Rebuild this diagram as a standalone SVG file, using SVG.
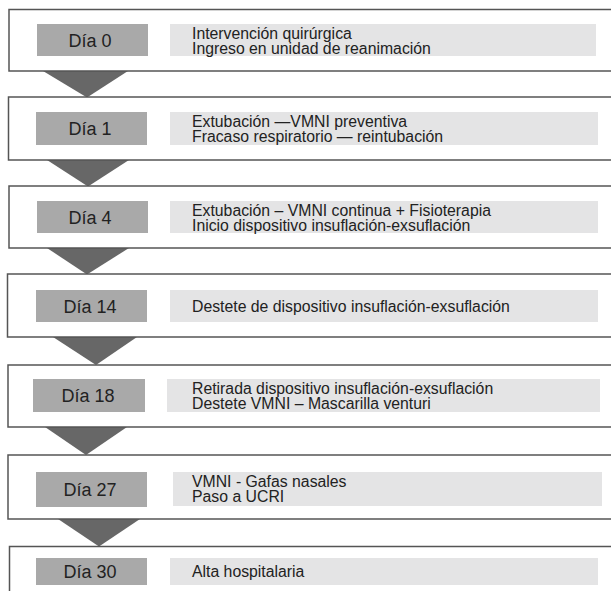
<svg xmlns="http://www.w3.org/2000/svg" width="611" height="591" viewBox="0 0 611 591">
<style>
.frame{fill:#ffffff;stroke:#555555;stroke-width:1.5}
.lab{fill:#a9a9a9}
.txt{fill:#e4e4e5}
.arrow{fill:#676767}
.lt{font-family:"Liberation Sans",Arial,sans-serif;font-size:18px;fill:#222222;text-anchor:middle}
.bt{font-family:"Liberation Sans",Arial,sans-serif;font-size:15.8px;fill:#222222}
</style>
<rect width="611" height="591" fill="#ffffff"/>
<g id="connectors">
<polygon class="arrow" points="43,71 128,71 87,97.5"/>
<polygon class="arrow" points="47,160 129,160 88,186.5"/>
<polygon class="arrow" points="47,248 129,248 87,274.5"/>
<polygon class="arrow" points="53,337 137,337 96,365"/>
<polygon class="arrow" points="45,427 127,427 86,455"/>
<polygon class="arrow" points="58,519 140,519 99,546.5"/>
</g>
<g id="node-dia0">
<rect class="frame" x="9" y="9.5" width="620" height="61.5"/>
<rect class="lab" x="37" y="24" width="111" height="32"/>
<rect class="txt" x="170" y="24" width="426" height="32"/>
<text class="lt" x="90" y="46.5">Día 0</text>
<text class="bt" x="192" y="38.5">Intervención quirúrgica</text>
<text class="bt" x="192" y="54">Ingreso en unidad de reanimación</text>
</g>
<g id="node-dia1">
<rect class="frame" x="8.5" y="97" width="620" height="63"/>
<rect class="lab" x="36" y="112" width="111" height="33"/>
<rect class="txt" x="170" y="112" width="428" height="33"/>
<text class="lt" x="90" y="135">Día 1</text>
<text class="bt" x="192" y="126.5">Extubación —VMNI preventiva</text>
<text class="bt" x="192" y="142">Fracaso respiratorio — reintubación</text>
</g>
<g id="node-dia4">
<rect class="frame" x="9" y="186" width="620" height="62"/>
<rect class="lab" x="37" y="201" width="111" height="32"/>
<rect class="txt" x="170" y="201" width="428" height="32"/>
<text class="lt" x="90" y="223.5">Día 4</text>
<text class="bt" x="192" y="215.5">Extubación – VMNI continua + Fisioterapia</text>
<text class="bt" x="192" y="231">Inicio dispositivo insuflación-exsuflación</text>
</g>
<g id="node-dia14">
<rect class="frame" x="7.5" y="274" width="620" height="63"/>
<rect class="lab" x="36" y="290" width="111" height="32"/>
<rect class="txt" x="170" y="290" width="428" height="32"/>
<text class="lt" x="90" y="312.5">Día 14</text>
<text class="bt" x="192" y="311.5">Destete de dispositivo insuflación-exsuflación</text>
</g>
<g id="node-dia18">
<rect class="frame" x="8" y="365" width="620" height="62"/>
<rect class="lab" x="33" y="379" width="112" height="33"/>
<rect class="txt" x="167" y="379" width="433" height="33"/>
<text class="lt" x="88" y="402">Día 18</text>
<text class="bt" x="192" y="393.5">Retirada dispositivo insuflación-exsuflación</text>
<text class="bt" x="192" y="409">Destete VMNI – Mascarilla venturi</text>
</g>
<g id="node-dia27">
<rect class="frame" x="8" y="455" width="620" height="64"/>
<rect class="lab" x="36" y="472" width="111" height="35"/>
<rect class="txt" x="173" y="472" width="429" height="34"/>
<text class="lt" x="90" y="496">Día 27</text>
<text class="bt" x="192" y="486.5">VMNI - Gafas nasales</text>
<text class="bt" x="192" y="502">Paso a UCRI</text>
</g>
<g id="node-dia30">
<rect class="frame" x="9.5" y="546.5" width="620" height="60"/>
<rect class="lab" x="36" y="558" width="111" height="27"/>
<rect class="txt" x="170" y="558" width="428" height="27"/>
<text class="lt" x="90" y="578">Día 30</text>
<text class="bt" x="192" y="577">Alta hospitalaria</text>
</g>
</svg>
